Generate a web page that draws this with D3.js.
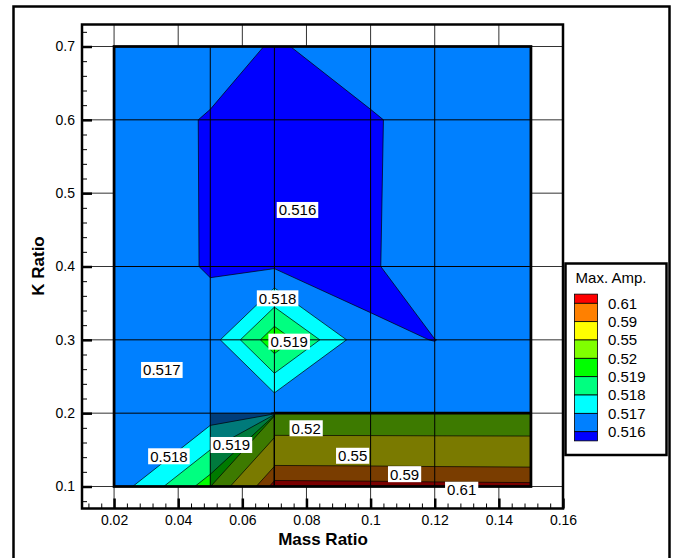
<!DOCTYPE html>
<html>
<head>
<meta charset="utf-8">
<script src="https://cdn.jsdelivr.net/npm/d3@7"></script>
<style>
  html, body { margin: 0; padding: 0; background: #fff; }
  svg { display: block; }
</style>
</head>
<body>
<svg id="chart" width="674" height="558"></svg>
<script>
// ---- contour levels and colours (below first level, then each band upward)
const levels = [0.516, 0.517, 0.518, 0.519, 0.52, 0.55, 0.59, 0.61];
const bandColors = ["#0000ff", "#0080ff", "#00ffff", "#00ff80", "#00ff00",
                    "#80ff00", "#ffff00", "#ff8000", "#ff0000"];

// ---- main mesh: mass ratio (columns) x K ratio (rows, bottom to top)
const meshX = [0.02, 0.05, 0.07, 0.1, 0.12, 0.15];
const meshY = [0.1, 0.2, 0.3, 0.4, 0.6, 0.7];
const ampRows = [
  [0.5164, 0.5195, 0.618, 0.617, 0.616, 0.615],
  [0.5165, 0.5165, 0.51597, 0.5165, 0.5165, 0.5165],
  [0.5166, 0.5165, 0.5197, 0.5161, 0.51599, 0.5165],
  [0.51668, 0.51591, 0.51589, 0.51583, 0.5169, 0.5166],
  [0.51635, 0.51595, 0.5158, 0.51595, 0.5162, 0.5165],
  [0.5165, 0.5163, 0.51594, 0.5163, 0.5164, 0.5165]
];

// ---- second block (high amplitude zone)
const blockX = [0.07, 0.1, 0.12, 0.15];
const blockY = [0.1, 0.2];
const blockRows = [
  [0.618, 0.617, 0.616, 0.615],
  [0.5205, 0.5205, 0.5205, 0.5205]
];

// shaded cell of the main mesh
const shadedCellX = [0.05, 0.07];
const shadedCellY = [0.1, 0.2];

// ---- axes
const xTicks = [0.02, 0.04, 0.06, 0.08, 0.1, 0.12, 0.14, 0.16];
const yTicks = [0.1, 0.2, 0.3, 0.4, 0.5, 0.6, 0.7];

// ---- contour labels (level, position in data units)
const contourLabels = [
  { value: 0.516, x: 0.0772, y: 0.4771 },
  { value: 0.518, x: 0.0710, y: 0.3566 },
  { value: 0.519, x: 0.0746, y: 0.2975 },
  { value: 0.517, x: 0.0349, y: 0.2589 },
  { value: 0.518, x: 0.0371, y: 0.1412 },
  { value: 0.519, x: 0.0566, y: 0.1566 },
  { value: 0.52,  x: 0.0799, y: 0.1794 },
  { value: 0.55,  x: 0.0944, y: 0.1419 },
  { value: 0.59,  x: 0.1106, y: 0.1168 },
  { value: 0.61,  x: 0.1284, y: 0.0956 }
];

const FONT = "Arial, 'Liberation Sans', Helvetica, sans-serif";
const svg = d3.select("#chart");

const x = d3.scaleLinear().domain([0.01, 0.16]).range([82, 563]);
const y = d3.scaleLinear().domain([0.07, 0.73]).range([508.5, 24.5]);

// outer frame
svg.append("rect")
  .attr("x", 13.5).attr("y", 6.5).attr("width", 656).attr("height", 600)
  .attr("fill", "#fff").attr("stroke", "#000").attr("stroke-width", 2.5);

// grid lines at major ticks
const grid = svg.append("g").attr("stroke", "#333").attr("stroke-width", 1);
grid.selectAll("line.gx").data(xTicks).join("line")
  .attr("x1", d => x(d)).attr("x2", d => x(d))
  .attr("y1", y.range()[1]).attr("y2", y.range()[0]);
grid.selectAll("line.gy").data(yTicks).join("line")
  .attr("y1", d => y(d)).attr("y2", d => y(d))
  .attr("x1", x.range()[0]).attr("x2", x.range()[1]);

// filled contours of one mesh block
function drawZone(parent, gxVals, gyVals, rows) {
  const nx = gxVals.length, ny = gyVals.length;
  const gx = d3.scaleLinear().domain(gxVals.map((_, i) => i + 0.5)).range(gxVals).clamp(true);
  const gy = d3.scaleLinear().domain(gyVals.map((_, j) => j + 0.5)).range(gyVals).clamp(true);
  const proj = d3.geoTransform({
    point(px, py) { this.stream.point(x(gx(px)), y(gy(py))); }
  });
  const path = d3.geoPath(proj);
  const bands = d3.contours().size([nx, ny]).thresholds(levels)(rows.flat());
  const g = parent.append("g");
  g.append("rect")
    .attr("x", x(gxVals[0])).attr("y", y(gyVals[ny - 1]))
    .attr("width", x(gxVals[nx - 1]) - x(gxVals[0]))
    .attr("height", y(gyVals[0]) - y(gyVals[ny - 1]))
    .attr("fill", bandColors[0]);
  g.append("g").selectAll("path").data(bands).join("path")
    .attr("d", path)
    .attr("fill", d => bandColors[levels.indexOf(d.value) + 1]);
  g.append("g").selectAll("path").data(bands).join("path")
    .attr("d", path)
    .attr("fill", "none").attr("stroke", "#000").attr("stroke-width", 0.7)
    .attr("stroke-linejoin", "round");
  return g;
}

const plot = svg.append("g");
drawZone(plot, meshX, meshY, ampRows);
plot.append("rect")
  .attr("x", x(shadedCellX[0])).attr("y", y(shadedCellY[1]))
  .attr("width", x(shadedCellX[1]) - x(shadedCellX[0]))
  .attr("height", y(shadedCellY[0]) - y(shadedCellY[1]))
  .attr("fill", "#000").attr("opacity", 0.52);

drawZone(plot, blockX, blockY, blockRows);
plot.append("rect")
  .attr("x", x(blockX[0])).attr("y", y(blockY[1]))
  .attr("width", x(blockX[blockX.length - 1]) - x(blockX[0]))
  .attr("height", y(blockY[0]) - y(blockY[1]))
  .attr("fill", "#000").attr("opacity", 0.52);

// mesh lines
const mesh = plot.append("g").attr("stroke", "#000").attr("stroke-width", 1);
mesh.selectAll("line.mx").data(meshX.slice(1, -1)).join("line")
  .attr("x1", d => x(d)).attr("x2", d => x(d))
  .attr("y1", y(meshY[0])).attr("y2", y(meshY[meshY.length - 1]));
mesh.selectAll("line.my").data(meshY.slice(1, -1)).join("line")
  .attr("y1", d => y(d)).attr("y2", d => y(d))
  .attr("x1", x(meshX[0])).attr("x2", x(meshX[meshX.length - 1]));

// block borders
plot.append("line")
  .attr("x1", x(blockX[0])).attr("x2", x(blockX[blockX.length - 1]))
  .attr("y1", y(blockY[1])).attr("y2", y(blockY[1]))
  .attr("stroke", "#000").attr("stroke-width", 2.75);
plot.append("rect")
  .attr("x", x(meshX[0])).attr("y", y(meshY[meshY.length - 1]))
  .attr("width", x(meshX[meshX.length - 1]) - x(meshX[0]))
  .attr("height", y(meshY[0]) - y(meshY[meshY.length - 1]))
  .attr("fill", "none").attr("stroke", "#000").attr("stroke-width", 2.75);

// contour labels
const lab = svg.append("g").attr("font-family", FONT).attr("font-size", 15);
contourLabels.forEach(d => {
  const g = lab.append("g").attr("transform", `translate(${x(d.x)},${y(d.y)})`);
  const r = g.append("rect").attr("fill", "#fff");
  const t = g.append("text").text(String(d.value))
    .attr("text-anchor", "middle").attr("dy", "0.36em").attr("fill", "#000");
  const w = t.node().getComputedTextLength() + 4;
  r.attr("x", -w / 2).attr("y", -8).attr("width", w).attr("height", 16);
});

// axes
const axes = svg.append("g").attr("font-family", FONT);
const xMinor = d3.range(0.012, 0.1601, 0.004).filter(v => !xTicks.some(t => Math.abs(t - v) < 1e-6));
const yMinor = d3.range(0.08, 0.7301, 0.02).filter(v => !yTicks.some(t => Math.abs(t - v) < 1e-6));

const xa = axes.append("g").attr("transform", `translate(0,${y.range()[0]})`)
  .call(d3.axisBottom(x).tickValues(xTicks).tickSize(-10).tickPadding(7).tickFormat(d => String(d)));
const xm = axes.append("g").attr("transform", `translate(0,${y.range()[0]})`)
  .call(d3.axisBottom(x).tickValues(xMinor).tickSize(-5).tickFormat(""));
const ya = axes.append("g").attr("transform", `translate(${x.range()[0]},0)`)
  .call(d3.axisLeft(y).tickValues(yTicks).tickSize(-10).tickPadding(7).tickFormat(d => String(d)));
const ym = axes.append("g").attr("transform", `translate(${x.range()[0]},0)`)
  .call(d3.axisLeft(y).tickValues(yMinor).tickSize(-5).tickFormat(""));
[xa, xm, ya, ym].forEach(a => a.select(".domain").remove());
[xa, ya].forEach(a => {
  a.selectAll(".tick line").attr("stroke", "#000").attr("stroke-width", 2.5);
  a.selectAll(".tick text").attr("font-size", 14).attr("font-family", FONT).attr("fill", "#000");
});
[xm, ym].forEach(a => a.selectAll(".tick line").attr("stroke", "#000").attr("stroke-width", 1));

// axes frame
svg.append("rect")
  .attr("x", x.range()[0]).attr("y", y.range()[1])
  .attr("width", x.range()[1] - x.range()[0])
  .attr("height", y.range()[0] - y.range()[1])
  .attr("fill", "none").attr("stroke", "#000").attr("stroke-width", 2.5);

// axis titles
svg.append("text").text("Mass Ratio")
  .attr("x", 323).attr("y", 539).attr("dy", "0.35em")
  .attr("text-anchor", "middle").attr("font-family", FONT)
  .attr("font-size", 17).attr("font-weight", "bold");
svg.append("text").text("K Ratio")
  .attr("transform", "translate(38.5,266) rotate(-90)").attr("dy", "0.35em")
  .attr("text-anchor", "middle").attr("font-family", FONT)
  .attr("font-size", 17).attr("font-weight", "bold");

// legend
const leg = svg.append("g").attr("font-family", FONT);
leg.append("rect")
  .attr("x", 565.5).attr("y", 263.5).attr("width", 101).attr("height", 191.5)
  .attr("fill", "#fff").attr("stroke", "#000").attr("stroke-width", 2.5);
leg.append("text").text("Max. Amp.")
  .attr("x", 611).attr("y", 278).attr("dy", "0.35em")
  .attr("text-anchor", "middle").attr("font-size", 15);
const legendLevels = levels.slice().reverse();
const ly = d3.scaleLinear().domain([0, legendLevels.length - 1]).range([303.3, 431.7]);
const legendColors = bandColors.slice().reverse();
legendColors.forEach((c, i) => {
  const top = i === 0 ? ly(-0.5) : ly(i - 1);
  const bot = i === legendColors.length - 1 ? ly(i - 0.5) : ly(i);
  leg.append("rect")
    .attr("x", 574.5).attr("y", top).attr("width", 23).attr("height", bot - top)
    .attr("fill", c).attr("stroke", "#000").attr("stroke-width", 0.8);
});
legendLevels.forEach((v, i) => {
  leg.append("text").text(String(v))
    .attr("x", 608).attr("y", ly(i)).attr("dy", "0.35em")
    .attr("font-size", 15).attr("fill", "#000");
});
</script>
</body>
</html>
